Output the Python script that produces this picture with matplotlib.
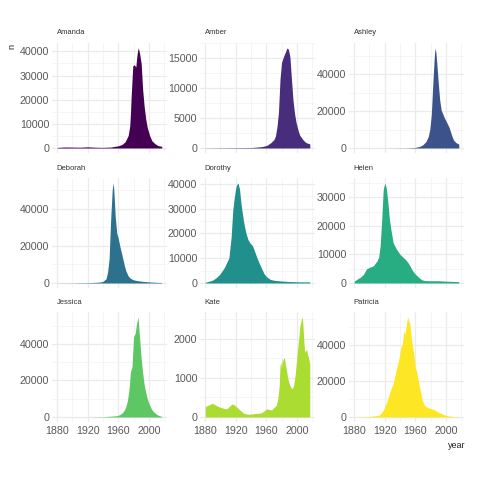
import matplotlib
matplotlib.use("Agg")
import matplotlib.pyplot as plt
from matplotlib.ticker import MultipleLocator, FixedLocator

plt.rcParams['font.family'] = ['Liberation Sans', 'DejaVu Sans']

names = ['Amanda', 'Amber', 'Ashley', 'Deborah', 'Dorothy', 'Helen',
         'Jessica', 'Kate', 'Patricia']
colors = ['#440154', '#472D7B', '#3B528B', '#2C728E', '#21908C',
          '#27AD81', '#5DC863', '#AADC32', '#FDE725']

amanda_year = [1880, 1890, 1900, 1910, 1920, 1930, 1940, 1950, 1955, 1960,
               1965, 1969, 1973, 1975, 1976, 1977, 1979, 1981, 1983, 1984,
               1985, 1986, 1987, 1988, 1990, 1992, 1994, 1996, 1998, 2001,
               2004, 2008, 2012, 2017]
amanda_n = [240, 420, 380, 330, 480, 320, 260, 380, 650, 900,
            1500, 2600, 5200, 9000, 14500, 22000, 34000, 34500, 33500, 37000,
            39500, 41400, 40500, 39000, 35000, 24000, 17000, 12000, 8500, 5200,
            3000, 1800, 1000, 700]

amber_year = [1880, 1900, 1920, 1940, 1948, 1955, 1961, 1966, 1970, 1972,
              1974, 1976, 1978, 1980, 1983, 1985, 1987, 1989, 1991, 1993,
              1995, 1997, 1999, 2002, 2004, 2008, 2011, 2014, 2017]
amber_n = [20, 40, 60, 80, 150, 250, 450, 900, 1400, 2000,
           3500, 6000, 11500, 14300, 15400, 16000, 16700, 16500, 15200, 11500,
           8000, 5800, 4300, 2800, 2100, 1400, 1000, 800, 700]

ashley_year = [1880, 1920, 1950, 1960, 1966, 1970, 1974, 1977, 1979, 1981,
               1983, 1985, 1986, 1987, 1988, 1990, 1992, 1994, 1996, 1998,
               2001, 2004, 2006, 2008, 2010, 2013, 2017]
ashley_n = [5, 10, 100, 300, 900, 1800, 3500, 6200, 10000, 18000,
            35000, 50000, 54200, 52000, 47000, 36000, 26000, 20500, 18500, 16500,
            14000, 11500, 9000, 6500, 4400, 3000, 2100]

deborah_year = [1880, 1900, 1920, 1930, 1936, 1940, 1944, 1946, 1948, 1950,
                1952, 1953, 1954, 1955, 1956, 1958, 1960, 1962, 1964, 1966,
                1968, 1970, 1973, 1976, 1980, 1986, 1992, 2000, 2008, 2017]
deborah_n = [30, 80, 200, 350, 500, 900, 2300, 6000, 13000, 34000,
             50000, 54000, 51000, 44000, 36000, 27000, 24000, 20000, 16500, 13000,
             9400, 6500, 3800, 2500, 1700, 1200, 900, 600, 400, 250]

dorothy_year = [1880, 1885, 1890, 1895, 1899, 1905, 1911, 1914, 1916, 1918,
                1920, 1921, 1923, 1925, 1927, 1930, 1933, 1936, 1939, 1942,
                1945, 1948, 1951, 1954, 1957, 1960, 1965, 1970, 1980, 1990,
                2000, 2010, 2017]
dorothy_n = [300, 700, 1200, 2300, 3500, 6200, 10100, 18600, 29000, 34400,
             38300, 39500, 40300, 37700, 31700, 25200, 20500, 17500, 16000, 15000,
             12500, 10000, 7800, 5800, 3800, 2600, 1500, 1100, 800, 600,
             500, 450, 450]

helen_year = [1880, 1884, 1888, 1892, 1896, 1900, 1905, 1910, 1912, 1914,
              1916, 1918, 1920, 1922, 1924, 1926, 1928, 1931, 1935, 1940,
              1944, 1948, 1952, 1956, 1960, 1964, 1968, 1972, 1980, 1990,
              2000, 2010, 2017]
helen_n = [640, 1400, 2000, 3000, 4900, 5500, 6000, 7800, 9000, 13000,
           22000, 32700, 35000, 33300, 28500, 22500, 18800, 14100, 12000, 10000,
           9000, 8000, 6500, 4500, 3100, 2100, 1200, 850, 800, 800,
           650, 550, 500]

jessica_year = [1880, 1900, 1920, 1940, 1950, 1958, 1962, 1965, 1968, 1970,
                1972, 1974, 1976, 1978, 1980, 1982, 1984, 1985, 1986, 1987,
                1988, 1990, 1992, 1994, 1996, 1998, 2000, 2003, 2006, 2010,
                2014, 2017]
jessica_n = [5, 10, 20, 150, 450, 700, 1300, 2200, 3800, 5800,
             9000, 14800, 24800, 27500, 43800, 45600, 51000, 53000, 54700, 48000,
             43000, 32000, 24000, 17500, 13500, 10000, 7600, 4700, 2900, 1500,
             700, 400]

kate_year = [1880, 1883, 1886, 1889, 1892, 1895, 1898, 1902, 1906, 1909,
             1912, 1915, 1918, 1921, 1924, 1927, 1930, 1934, 1938, 1942,
             1946, 1950, 1954, 1958, 1961, 1964, 1967, 1970, 1973, 1975,
             1977, 1978, 1979, 1980, 1981, 1982, 1983, 1984, 1985, 1986,
             1988, 1990, 1992, 1994, 1996, 1998, 2000, 2002, 2004, 2006,
             2007, 2008, 2009, 2010, 2011, 2012, 2013, 2014, 2015, 2016,
             2017]
kate_n = [270, 290, 320, 350, 320, 290, 260, 235, 210, 220,
          280, 330, 310, 260, 200, 150, 100, 75, 70, 80,
          90, 95, 110, 170, 210, 190, 180, 240, 300, 450,
          800, 1300, 1400, 1250, 1500, 1420, 1520, 1480, 1350, 1250,
          1000, 850, 760, 720, 820, 1100, 1500, 1900, 2300, 2500,
          2550, 2350, 2000, 1720, 1650, 1700, 1720, 1600, 1550, 1450,
          1350]

patricia_year = [1880, 1890, 1900, 1908, 1913, 1917, 1920, 1922, 1925, 1928,
                 1931, 1935, 1939, 1941, 1943, 1945, 1946, 1947, 1949, 1950,
                 1951, 1953, 1955, 1958, 1960, 1962, 1964, 1966, 1969, 1972,
                 1975, 1980, 1985, 1990, 1995, 2000, 2005, 2010, 2017]
patricia_n = [50, 130, 360, 700, 1100, 3100, 5500, 7700, 11500, 15500,
              18600, 26000, 33200, 38700, 40500, 47900, 46000, 47000, 53300, 55500,
              54000, 51500, 43000, 35100, 27500, 25000, 20000, 15900, 9500, 6500,
              5500, 4800, 4000, 2800, 1700, 900, 500, 300, 180]

years_all = [amanda_year, amber_year, ashley_year, deborah_year, dorothy_year,
             helen_year, jessica_year, kate_year, patricia_year]
n_all = [amanda_n, amber_n, ashley_n, deborah_n, dorothy_n, helen_n,
         jessica_n, kate_n, patricia_n]

# y breaks per panel (free scales)
y_step = [10000, 5000, 20000, 20000, 10000, 10000, 20000, 1000, 20000]
x_breaks = [1880, 1920, 1960, 2000]

W, H = 480, 480
fig = plt.figure(figsize=(4.8, 4.8), dpi=100)

col_left = [52, 200, 349]
row_top = [43, 178, 312]
pw, ph = 115, 110

x0, x1 = 1880, 2017
xpad = (x1 - x0) * 0.05
tick_col = '#595959'

for i, name in enumerate(names):
    r, c = divmod(i, 3)
    ax = fig.add_axes([col_left[c] / W, 1 - (row_top[r] + ph) / H, pw / W, ph / H])
    yrs = years_all[i]
    vals = n_all[i]
    ax.fill_between(yrs, vals, 0, color=colors[i], linewidth=0)

    top = max(vals)
    ax.set_xlim(x0 - xpad, x1 + xpad)
    ax.set_ylim(-0.05 * top, top * 1.05)

    st = y_step[i]
    ax.yaxis.set_major_locator(MultipleLocator(st))
    ax.yaxis.set_minor_locator(MultipleLocator(st / 2))
    ax.xaxis.set_major_locator(FixedLocator(x_breaks))
    ax.xaxis.set_minor_locator(FixedLocator([1900, 1940, 1980, 2020]))

    ax.grid(which='major', color='#ebebeb', linewidth=0.9)
    ax.grid(which='minor', color='#f2f2f2', linewidth=0.5)
    ax.set_axisbelow(True)
    for s in ax.spines.values():
        s.set_visible(False)
    ax.tick_params(which='both', length=0, labelsize=7.7, labelcolor=tick_col, pad=2)
    if r < 2:
        ax.tick_params(axis='x', labelbottom=False)
    else:
        ax.tick_params(axis='x', pad=3)

    ax.text(0.04, 1.0 + 10 / ph, name, transform=ax.transAxes,
            fontsize=5.5, color='#333333', ha='left', va='center')

fig.text(12 / W, 1 - 44 / H, 'n', rotation=90, fontsize=6.5, color='#222222',
         ha='center', va='top')
fig.text(465 / W, 1 - 446 / H, 'year', fontsize=6.5, color='#222222',
         ha='right', va='center')

fig.savefig('out.png', dpi=100)
